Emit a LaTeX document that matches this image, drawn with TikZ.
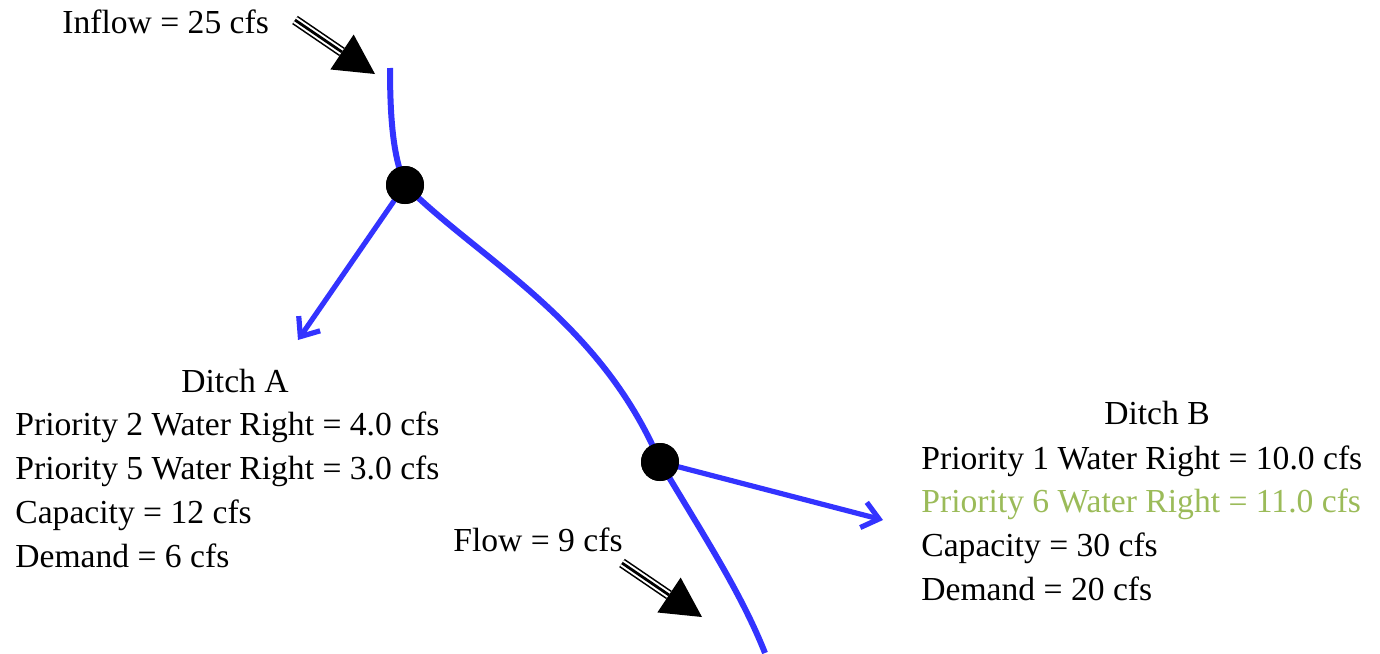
\documentclass[tikz,border=0pt]{standalone}
\usepackage{fontspec}
\setmainfont{Liberation Serif}
\usetikzlibrary{arrows.meta,calc}
\definecolor{river}{RGB}{51,51,255}
\definecolor{prio}{RGB}{155,187,89}
\tikzset{
  lbl/.style={inner sep=0pt, anchor=base west, font=\fontsize{16.8pt}{20pt}\selectfont},
  ttl/.style={inner sep=0pt, anchor=base, font=\fontsize{16.8pt}{20pt}\selectfont},
  riverline/.style={draw=river, line width=3pt},
  branch/.style={draw=river, line width=2.6pt, -{Straight Barb[length=8pt,width=13pt,line width=2.6pt]}, shorten <=4pt},
  junction/.style={circle, fill=black, minimum size=19pt, inner sep=0pt},
}
\newcommand{\stripedarrow}[3]{%
  \draw[black, line width=5pt] (#1) -- (#2);
  \draw[white, line width=3.4pt] (#1) -- (#2);
  \draw[black, line width=1.4pt] (#1) -- (#2);
  \fill[black] (#3) -- ($(#2)!10.5pt!90:(#3)$) -- ($(#2)!10.5pt!-90:(#3)$) -- cycle;
}
\begin{document}
\begin{tikzpicture}[x=0.5pt,y=-0.5pt]
\useasboundingbox (0,0) rectangle (1380,653);
% river
\coordinate (top) at (390,68);
\coordinate (bot) at (765,653);
\node[junction] (j1) at (405,185) {};
\node[junction] (j2) at (660,462) {};
\coordinate (aend) at (298,340);
\coordinate (bend) at (883,520);
\draw[riverline] (top) .. controls (390,130) and (395,160) .. (j1.center)
  .. controls (480,260) and (600,320) .. (j2.center)
  .. controls (700,530) and (740,590) .. (bot);
\draw[branch] (j1.center) -- (aend);
\draw[branch] (j2.center) -- (bend);
\node[junction] at (j1) {};
\node[junction] at (j2) {};
% striped arrows
\coordinate (ia) at (295,20);
\coordinate (ib) at (342,52);
\coordinate (it) at (375,74);
\stripedarrow{ia}{ib}{it}
\coordinate (fa) at (622,563);
\coordinate (fb) at (669,595);
\coordinate (ft) at (702,617);
\stripedarrow{fa}{fb}{ft}
% labels
\node[lbl] (inflow) at (62,33) {Inflow = 25 cfs};
\node[lbl] (flow) at (453,551) {Flow = 9 cfs};
\node[ttl] (da) at (235,392) {Ditch A};
\node[lbl] (a1) at (15,435) {Priority 2 Water Right = 4.0 cfs};
\node[lbl] (a2) at (15,479) {Priority 5 Water Right = 3.0 cfs};
\node[lbl] (a3) at (15,523) {Capacity = 12 cfs};
\node[lbl] (a4) at (15,567) {Demand = 6 cfs};
\node[ttl] (db) at (1157,424) {Ditch B};
\node[lbl] (b1) at (921,469) {Priority 1 Water Right = 10.0 cfs};
\node[lbl, text=prio] (b2) at (921,512) {Priority 6 Water Right = 11.0 cfs};
\node[lbl] (b3) at (921,556) {Capacity = 30 cfs};
\node[lbl] (b4) at (921,600) {Demand = 20 cfs};
\end{tikzpicture}
\end{document}
